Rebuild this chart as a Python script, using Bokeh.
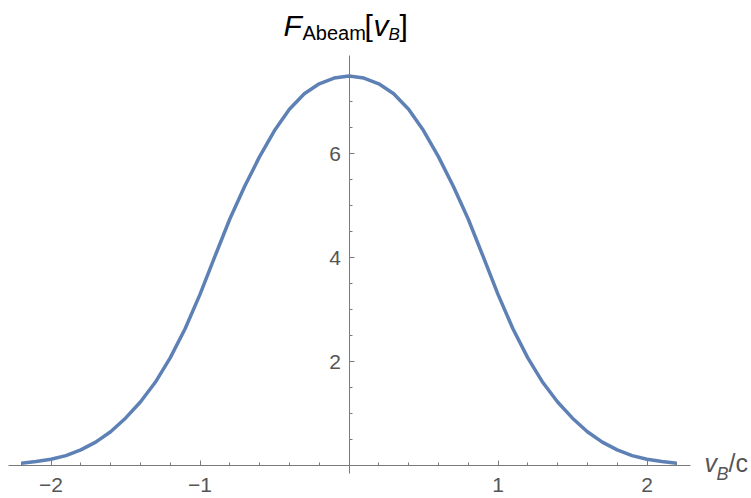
from bokeh.plotting import figure
from bokeh.models import Range1d, FixedTicker, Label
from bokeh.embed import file_html
from bokeh.resources import INLINE

# ---- data ----
v_b = [-2.2, -2.1, -2.0, -1.9, -1.8, -1.7, -1.6, -1.5, -1.4, -1.3, -1.2, -1.1,
       -1.0, -0.9, -0.8, -0.7, -0.6, -0.5, -0.4, -0.3, -0.2, -0.1, 0.0,
       0.1, 0.2, 0.3, 0.4, 0.5, 0.6, 0.7, 0.8, 0.9, 1.0, 1.1, 1.2, 1.3,
       1.4, 1.5, 1.6, 1.7, 1.8, 1.9, 2.0, 2.1, 2.2]
f_abeam = [0.045, 0.075, 0.12, 0.19, 0.30, 0.45, 0.65, 0.91, 1.22, 1.60, 2.07, 2.63,
           3.29, 4.02, 4.74, 5.37, 5.94, 6.44, 6.85, 7.15, 7.34, 7.45, 7.49,
           7.45, 7.34, 7.15, 6.85, 6.44, 5.94, 5.37, 4.74, 4.02, 3.29, 2.63, 2.07, 1.60,
           1.22, 0.91, 0.65, 0.45, 0.30, 0.19, 0.12, 0.075, 0.045]

x_major = [-2, -1, 1, 2]
x_minor = [-2.2, -1.8, -1.6, -1.4, -1.2, -0.8, -0.6, -0.4, -0.2,
           0.2, 0.4, 0.6, 0.8, 1.2, 1.4, 1.6, 1.8, 2.2]
x_labels = {-2: "\u22122", -1: "\u22121", 1: "1", 2: "2"}
y_major = [2, 4, 6]
y_minor = [0.5, 1, 1.5, 2.5, 3, 3.5, 4.5, 5, 5.5, 6.5, 7, 7.5]

# ---- layout (page pixels; canvas sits at the page origin) ----
W, H = 751, 498
X0, XS = 348.5, 149.0     # page x of v=0, pixels per unit
Y0, YS = 465.0, 52.0      # page y of F=0, pixels per unit
AX_L, AX_R = 8, 690       # x-axis line extent
AY_T, AY_B = 55, 473      # y-axis line extent

def dx(px):
    return (px - X0) / XS

def dy(py):
    return (Y0 - py) / YS

p = figure(width=W, height=H, output_backend="svg", toolbar_location=None,
           x_range=Range1d(dx(0), dx(W)), y_range=Range1d(dy(H), dy(0)),
           min_border_left=0, min_border_right=0,
           min_border_top=0, min_border_bottom=0)
p.outline_line_color = None
p.grid.visible = False
p.background_fill_color = "white"
p.border_fill_color = "white"

p.line(v_b, f_abeam, line_color="#5E81B5", line_width=3.5)

axis_col = "#7a7a7a"
lab_col = "#555555"
font = "Liberation Sans"

for ax in (p.xaxis[0], p.yaxis[0]):
    ax.fixed_location = 0
    ax.axis_line_color = axis_col
    ax.axis_line_width = 1
    ax.major_tick_line_color = axis_col
    ax.minor_tick_line_color = axis_col
    ax.major_tick_in = 5
    ax.major_tick_out = 0
    ax.minor_tick_in = 3
    ax.minor_tick_out = 0
    ax.major_label_text_color = lab_col
    ax.major_label_text_font = font
    ax.major_label_text_font_size = "21px"

p.xaxis.bounds = (dx(AX_L), dx(AX_R))
p.yaxis.bounds = (dy(AY_B), dy(AY_T))
p.xaxis.ticker = FixedTicker(ticks=x_major, minor_ticks=x_minor)
p.xaxis.major_label_overrides = x_labels
p.xaxis.major_label_standoff = 12
p.yaxis.ticker = FixedTicker(ticks=y_major, minor_ticks=y_minor)
p.yaxis.major_label_standoff = 8

def lab(text, px, baseline, size, style="normal", color="black"):
    # text_baseline "middle": centre of the em box sits ~0.35 em above the baseline
    p.add_layout(Label(x=dx(px), y=dy(baseline - 0.35 * size), text=text,
                       text_font=font, text_font_size=f"{size}px",
                       text_font_style=style, text_color=color,
                       text_align="left", text_baseline="middle"))

# title  F_Abeam[v_B]
lab("F", 283, 35, 30, "italic")
lab("Abeam", 302, 39.5, 20)
lab("[", 364, 35, 30)
lab("v", 373, 35, 30, "italic")
lab("B", 388, 39.5, 17, "italic")
lab("]", 399, 35, 30)

# x axis label  v_B/c
lab("v", 704, 471.5, 25, "italic", lab_col)
lab("B", 716, 480, 18, "italic", lab_col)
lab("/c", 728, 471.5, 25, "normal", lab_col)

open("out.html", "w").write(file_html(p, INLINE))
